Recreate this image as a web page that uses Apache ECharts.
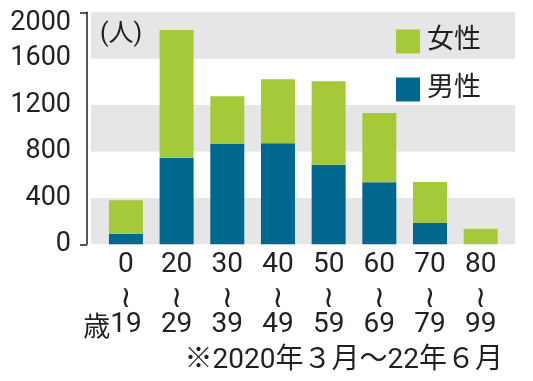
<!DOCTYPE html>
<html><head><meta charset="utf-8">
<script src="https://cdn.jsdelivr.net/npm/echarts@6/dist/echarts.min.js"></script>
<style>html,body{margin:0;padding:0;background:#fff}#c{width:533px;height:381px}</style>
</head><body><div id="c"></div>
<script>
const ageStart = ['0','20','30','40','50','60','70','80'];
const ageEnd = ['19','29','39','49','59','69','79','99'];
const male = [91, 747, 865, 871, 686, 534, 186, 0];
const female = [288, 1100, 411, 551, 719, 598, 351, 134];
const yTicks = [0, 400, 800, 1200, 1600, 2000];

const FONT = 'Roboto, "Noto Sans CJK JP", sans-serif';
const TXT = '#231f20';
const chart = echarts.init(document.getElementById('c'), null, {renderer: 'canvas'});
chart.setOption({
  animation: false,
  textStyle: {fontFamily: FONT, color: TXT},
  title: [
    {text: '(人)', left: 95, top: 17, textStyle: {fontSize: 25, fontWeight: 'normal', color: TXT, fontFamily: FONT}},
    {text: '※2020年３月〜22年６月', right: 25, top: 342, textStyle: {fontSize: 28, fontWeight: 'normal', color: TXT, fontFamily: FONT}}
  ],
  legend: {
    orient: 'vertical', left: 391, top: 23, itemWidth: 24, itemHeight: 24, itemGap: 21,
    icon: 'rect', data: ['女性', '男性'],
    textStyle: {fontSize: 27, color: TXT, fontFamily: FONT, padding: [0,0,0,2]}
  },
  grid: [
    {left: 100.6, right: 27, top: 12.3, bottom: 136.7},
    {left: 91, right: 18, top: 12.3, bottom: 136.7}
  ],
  xAxis: [
    {type: 'category', gridIndex: 0, data: ageStart,
     axisLine: {show: false}, axisTick: {show: false},
     axisLabel: {
       margin: 6, interval: 0, color: TXT, fontFamily: FONT,
       formatter: function (v, i) {
         const last = i === 0 ? '{k|歳}{n|' + ageEnd[i] + '}{p|}' : '{n|' + ageEnd[i] + '}';
         return '{n|' + v + '}\n{w|≀}\n' + last;
       },
       rich: {
         n: {fontSize: 28, lineHeight: 30, color: TXT, fontFamily: FONT},
         w: {fontSize: 30, lineHeight: 30, color: TXT, fontFamily: '"Noto Sans CJK JP", "DejaVu Sans", sans-serif'},
         k: {fontSize: 27, lineHeight: 30, color: TXT, fontFamily: '"Noto Sans CJK JP", sans-serif'},
         p: {width: 27, lineHeight: 30}
       }
     }},
    {type: 'value', gridIndex: 1, show: false}
  ],
  yAxis: [
    {type: 'value', gridIndex: 0, min: 0, max: 2000, interval: 400, show: false},
    {type: 'value', gridIndex: 1, position: 'left', min: 0, max: 2000, interval: 400, offset: 4,
     axisLine: {show: false}, axisTick: {show: false}, splitLine: {show: false},
     splitArea: {show: true, areaStyle: {color: ['#e6e6e6', '#ffffff']}},
     axisLabel: {margin: 16, fontSize: 27, color: TXT, fontFamily: FONT,
       formatter: function (v) { return v === yTicks[yTicks.length - 1] ? '{t|' + v + '}' : String(v); },
       rich: {t: {fontSize: 27, color: TXT, fontFamily: FONT, padding: [22, 0, 0, 0]}}}},
    {type: 'value', gridIndex: 1, position: 'left', min: 0, max: 2000, interval: 2000, offset: 4,
     axisLine: {show: true, lineStyle: {color: TXT, width: 1.5}},
     axisTick: {show: true, length: 7, lineStyle: {color: TXT, width: 1.5}},
     axisLabel: {show: false}, splitLine: {show: false}}
  ],
  series: [
    {name: '男性', type: 'bar', stack: 's', xAxisIndex: 0, yAxisIndex: 0, data: male,
     barWidth: 34, itemStyle: {color: '#00678e'}},
    {name: '女性', type: 'bar', stack: 's', xAxisIndex: 0, yAxisIndex: 0, data: female,
     barWidth: 34, itemStyle: {color: '#a6c93a'}}
  ]
});
</script></body></html>
